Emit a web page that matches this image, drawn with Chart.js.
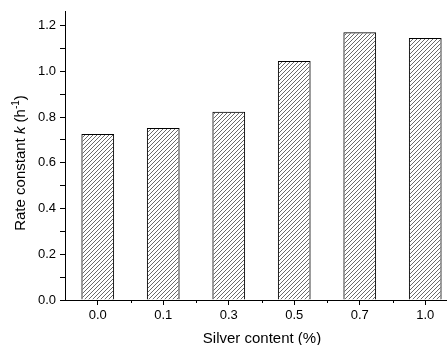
<!DOCTYPE html>
<html><head><meta charset="utf-8">
<script src="https://cdn.jsdelivr.net/npm/chart.js@4.4.0/dist/chart.umd.min.js"></script>
<style>html,body{margin:0;padding:0;overflow:hidden;background:#fff}</style></head>
<body><canvas id="c" width="470" height="345"></canvas>
<script>
const categories = ['0.0', '0.1', '0.3', '0.5', '0.7', '1.0'];
const rateK = [0.726, 0.752, 0.823, 1.045, 1.171, 1.146];
const yTickValues = [0, 0.1, 0.2, 0.3, 0.4, 0.5, 0.6, 0.7, 0.8, 0.9, 1.0, 1.1, 1.2];
const yTickLabels = ['0.0', '', '0.2', '', '0.4', '', '0.6', '', '0.8', '', '1.0', '', '1.2'];
const xTitle = 'Silver content (%)';
const yTitleParts = [
  {t: 'Rate constant ', style: ''},
  {t: 'k', style: 'italic '},
  {t: ' (h', style: ''},
  {t: '-1', style: '', sup: true},
  {t: ')', style: ''}
];

const FONT = '"Liberation Sans", Arial, sans-serif';

function makeHatch() {
  const p = document.createElement('canvas');
  p.width = 4; p.height = 4;
  const g = p.getContext('2d');
  g.strokeStyle = '#6a6a6a';
  g.lineWidth = 1;
  g.beginPath();
  g.moveTo(-1, 5); g.lineTo(5, -1);
  g.moveTo(-3, 3); g.lineTo(3, -3);
  g.moveTo(1, 7); g.lineTo(7, 1);
  g.stroke();
  return document.getElementById('c').getContext('2d').createPattern(p, 'repeat');
}

const extras = {
  id: 'extras',
  afterDraw(chart) {
    const ctx = chart.ctx;
    const xs = chart.scales.x;
    const area = chart.chartArea;
    ctx.save();
    // minor x ticks at category boundaries
    ctx.strokeStyle = '#000';
    ctx.lineWidth = 1;
    ctx.beginPath();
    for (let i = 0; i < categories.length - 1; i++) {
      const xp = Math.round((xs.getPixelForValue(i) + xs.getPixelForValue(i + 1)) / 2) + 0.5;
      ctx.moveTo(xp, area.bottom);
      ctx.lineTo(xp, area.bottom + 3);
    }
    ctx.stroke();
    // x title
    ctx.fillStyle = '#000';
    ctx.font = '15px ' + FONT;
    ctx.textAlign = 'center';
    ctx.textBaseline = 'middle';
    ctx.fillText(xTitle, (area.left + 447) / 2 + 6, 339);
    // y title (rich)
    const size = 15, supSize = 10;
    let total = 0;
    const widths = yTitleParts.map(p => {
      ctx.font = p.style + (p.sup ? supSize : size) + 'px ' + FONT;
      const w = ctx.measureText(p.t).width;
      total += w;
      return w;
    });
    ctx.translate(21, 163);
    ctx.rotate(-Math.PI / 2);
    ctx.textAlign = 'left';
    let x = -total / 2;
    yTitleParts.forEach((p, i) => {
      ctx.font = p.style + (p.sup ? supSize : size) + 'px ' + FONT;
      ctx.fillText(p.t, x, p.sup ? -5 : 0);
      x += widths[i];
    });
    ctx.restore();
  }
};

new Chart(document.getElementById('c'), {
  type: 'bar',
  data: {
    labels: categories,
    datasets: [{
      data: rateK,
      backgroundColor: makeHatch(),
      borderColor: '#000',
      borderWidth: 1,
      borderSkipped: 'bottom',
      barPercentage: 0.5,
      categoryPercentage: 1.0
    }]
  },
  options: {
    responsive: false,
    animation: false,
    devicePixelRatio: 1,
    layout: {padding: {top: 11, right: 12, left: 0, bottom: 0}},
    plugins: {legend: {display: false}, tooltip: {enabled: false}},
    scales: {
      x: {
        afterFit(s) { s.height = 45; },
        grid: {offset: false, drawOnChartArea: false, drawTicks: true, tickLength: 5, tickColor: '#000'},
        border: {display: true, color: '#000', width: 1},
        ticks: {color: '#000', font: {family: FONT, size: 13}, padding: 3, maxRotation: 0}
      },
      y: {
        min: 0,
        max: 1.26,
        afterFit(s) { s.width = 65; },
        afterBuildTicks(s) { s.ticks = yTickValues.map(v => ({value: v})); },
        grid: {drawOnChartArea: false, drawTicks: true, tickLength: 5, tickColor: '#000'},
        border: {display: true, color: '#000', width: 1},
        ticks: {
          color: '#000', font: {family: FONT, size: 13}, padding: 4,
          callback: (v, i) => yTickLabels[i]
        }
      }
    }
  },
  plugins: [extras]
});
</script>
</body></html>
